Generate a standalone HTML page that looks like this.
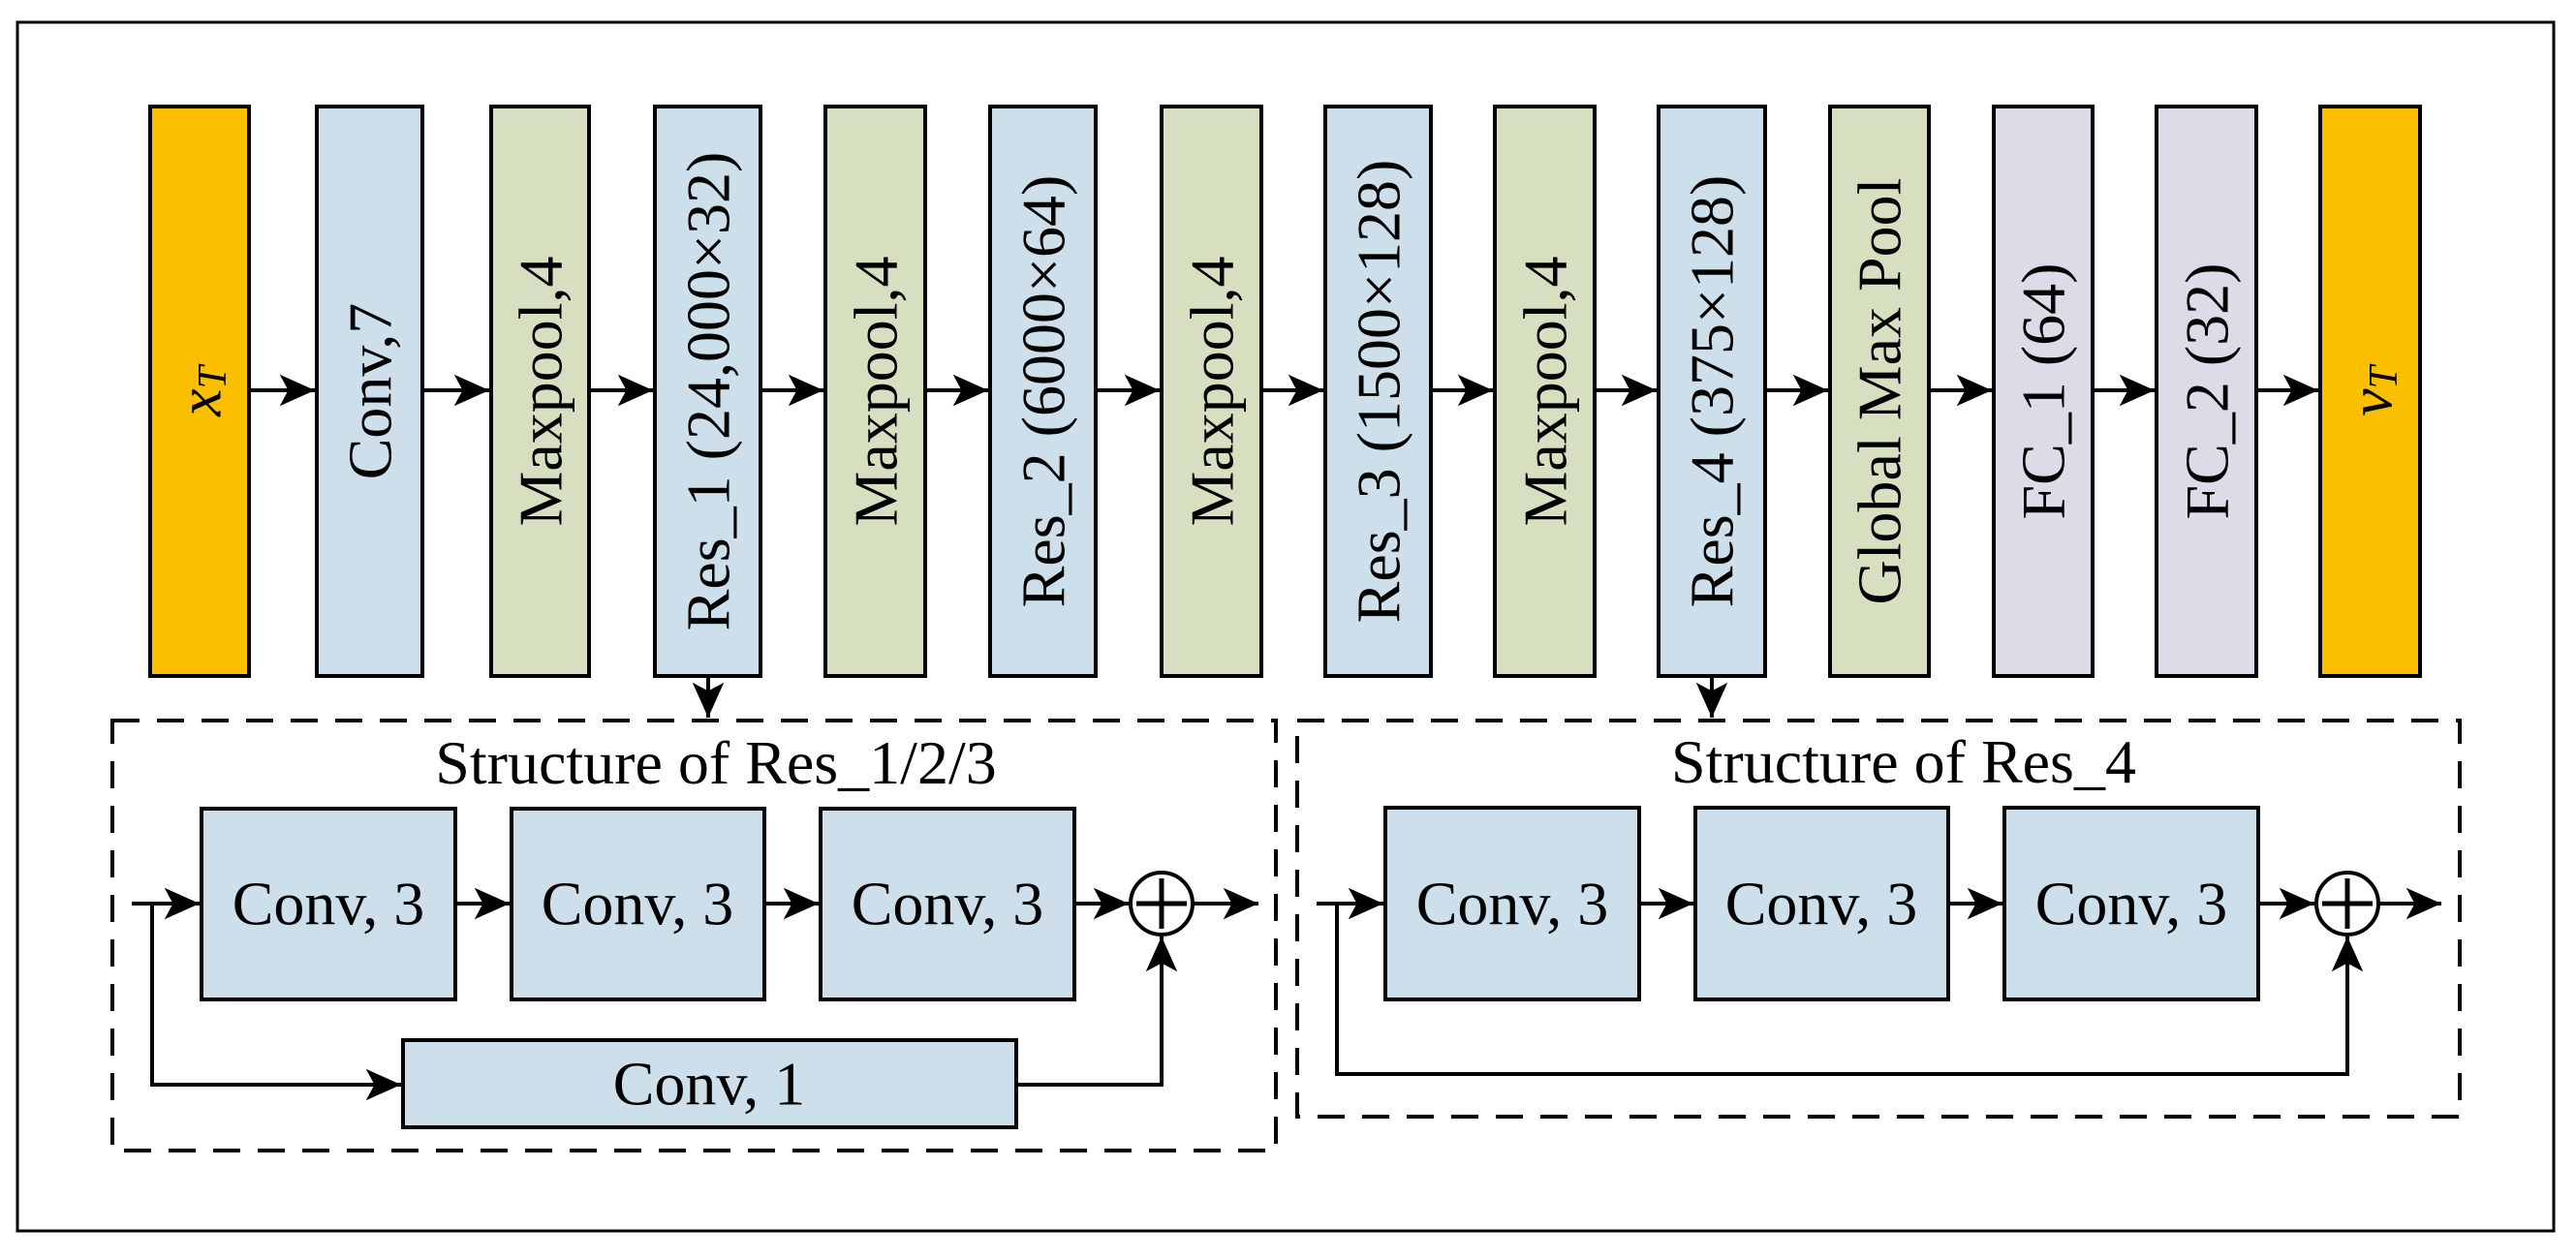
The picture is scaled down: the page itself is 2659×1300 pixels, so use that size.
<!DOCTYPE html>
<html><head><meta charset="utf-8"><style>
html,body{margin:0;padding:0;background:#fff}
svg{display:block}
svg text{font-family:"Liberation Serif","Times New Roman",Times,serif !important;font-size:64px;fill:#000}
</style></head><body>
<svg width="2659" height="1300" viewBox="0 0 2659 1300" xmlns="http://www.w3.org/2000/svg" font-family="Liberation Serif, Times New Roman, serif">
<defs>
<marker id="a" markerUnits="userSpaceOnUse" markerWidth="40" markerHeight="40" viewBox="-30 -15 32 30" refX="0" refY="0" orient="auto">
<path d="M0,0 L-29,-13 L-22,0 L-29,13 Z" fill="#000"/>
</marker>
</defs>
<rect x="18" y="23" width="2618" height="1248" fill="none" stroke="#000" stroke-width="3"/>
<g stroke="#000" stroke-width="4">
<rect x="155" y="110" width="102" height="588" fill="#fbbf00"/>
<rect x="327" y="110" width="109" height="588" fill="#cddfea"/>
<rect x="507" y="110" width="101" height="588" fill="#d6dfc0"/>
<rect x="676" y="110" width="109" height="588" fill="#cddfea"/>
<rect x="852" y="110" width="103" height="588" fill="#d6dfc0"/>
<rect x="1022" y="110" width="109" height="588" fill="#cddfea"/>
<rect x="1199" y="110" width="103" height="588" fill="#d6dfc0"/>
<rect x="1368" y="110" width="109" height="588" fill="#cddfea"/>
<rect x="1543" y="110" width="103" height="588" fill="#d6dfc0"/>
<rect x="1712" y="110" width="110" height="588" fill="#cddfea"/>
<rect x="1889" y="110" width="102" height="588" fill="#d6dfc0"/>
<rect x="2058" y="110" width="102" height="588" fill="#dedae8"/>
<rect x="2226" y="110" width="103" height="588" fill="#dedae8"/>
<rect x="2395" y="110" width="103" height="588" fill="#fbbf00"/>
</g>
<g text-anchor="middle" dominant-baseline="central" font-family="Liberation Serif, serif" font-size="64">
<text transform="translate(206,404) rotate(-90)" font-style="italic">x<tspan font-size="42" dy="14">T</tspan></text>
<text transform="translate(382,404) rotate(-90)">Conv,7</text>
<text transform="translate(558,404) rotate(-90)">Maxpool,4</text>
<text transform="translate(731,404) rotate(-90)">Res_1 (24,000×32)</text>
<text transform="translate(904,404) rotate(-90)">Maxpool,4</text>
<text transform="translate(1077,404) rotate(-90)">Res_2 (6000×64)</text>
<text transform="translate(1251,404) rotate(-90)">Maxpool,4</text>
<text transform="translate(1423,404) rotate(-90)">Res_3 (1500×128)</text>
<text transform="translate(1595,404) rotate(-90)">Maxpool,4</text>
<text transform="translate(1767,404) rotate(-90)">Res_4 (375×128)</text>
<text transform="translate(1940,404) rotate(-90)">Global Max Pool</text>
<text transform="translate(2109,404) rotate(-90)">FC_1 (64)</text>
<text transform="translate(2278,404) rotate(-90)">FC_2 (32)</text>
<text transform="translate(2447,404) rotate(-90)" font-style="italic">v<tspan font-size="42" dy="14">T</tspan></text>
</g>
<g stroke="#000" stroke-width="4" fill="none" marker-end="url(#a)">
<line x1="257" y1="403" x2="325" y2="403"/>
<line x1="436" y1="403" x2="505" y2="403"/>
<line x1="608" y1="403" x2="674" y2="403"/>
<line x1="785" y1="403" x2="850" y2="403"/>
<line x1="955" y1="403" x2="1020" y2="403"/>
<line x1="1131" y1="403" x2="1197" y2="403"/>
<line x1="1302" y1="403" x2="1366" y2="403"/>
<line x1="1477" y1="403" x2="1541" y2="403"/>
<line x1="1646" y1="403" x2="1710" y2="403"/>
<line x1="1822" y1="403" x2="1887" y2="403"/>
<line x1="1991" y1="403" x2="2056" y2="403"/>
<line x1="2160" y1="403" x2="2224" y2="403"/>
<line x1="2329" y1="403" x2="2393" y2="403"/>
<line x1="731" y1="698" x2="731" y2="741"/>
<line x1="1767" y1="698" x2="1767" y2="741"/>
</g>
<g stroke="#000" stroke-width="4" fill="none" stroke-dasharray="28 18">
<rect x="116" y="744" width="1201" height="444"/>
<rect x="1339" y="744" width="1200" height="409"/>
</g>
<g font-family="Liberation Serif, serif" font-size="64">
<text x="739" y="809" text-anchor="middle">Structure of Res_1/2/3</text>
<text x="1965" y="808" text-anchor="middle">Structure of Res_4</text>
</g>
<g stroke="#000" stroke-width="4" fill="#cddfea">
<rect x="208" y="835" width="262" height="197"/>
<rect x="528" y="835" width="261" height="197"/>
<rect x="847" y="835" width="262" height="197"/>
<rect x="416" y="1074" width="633" height="90"/>
<rect x="1430" y="834" width="262" height="198"/>
<rect x="1750" y="834" width="261" height="198"/>
<rect x="2069" y="834" width="262" height="198"/>
<circle cx="1199" cy="933" r="32" fill="#fff"/>
<circle cx="2423" cy="933" r="32" fill="#fff"/>
</g>
<g stroke="#000" stroke-width="5">
<line x1="1199" y1="907" x2="1199" y2="959"/><line x1="1173" y1="933" x2="1225" y2="933"/>
<line x1="2423" y1="907" x2="2423" y2="959"/><line x1="2397" y1="933" x2="2449" y2="933"/>
</g>
<g text-anchor="middle" dominant-baseline="central" font-family="Liberation Serif, serif" font-size="64">
<text x="339" y="933">Conv, 3</text>
<text x="658" y="933">Conv, 3</text>
<text x="978" y="933">Conv, 3</text>
<text x="732" y="1119">Conv, 1</text>
<text x="1561" y="933">Conv, 3</text>
<text x="1880" y="933">Conv, 3</text>
<text x="2200" y="933">Conv, 3</text>
</g>
<g stroke="#000" stroke-width="4" fill="none" marker-end="url(#a)">
<line x1="136" y1="933" x2="206" y2="933"/>
<line x1="470" y1="933" x2="526" y2="933"/>
<line x1="789" y1="933" x2="845" y2="933"/>
<line x1="1109" y1="933" x2="1165" y2="933"/>
<line x1="1231" y1="933" x2="1299" y2="933"/>
<polyline points="157,933 157,1120 414,1120"/>
<polyline points="1049,1120 1199,1120 1199,967"/>
<line x1="1359" y1="933" x2="1428" y2="933"/>
<line x1="1692" y1="933" x2="1748" y2="933"/>
<line x1="2011" y1="933" x2="2067" y2="933"/>
<line x1="2331" y1="933" x2="2389" y2="933"/>
<line x1="2455" y1="933" x2="2520" y2="933"/>
<polyline points="1380,933 1380,1109 2423,1109 2423,967"/>
</g>
</svg>
</body></html>
